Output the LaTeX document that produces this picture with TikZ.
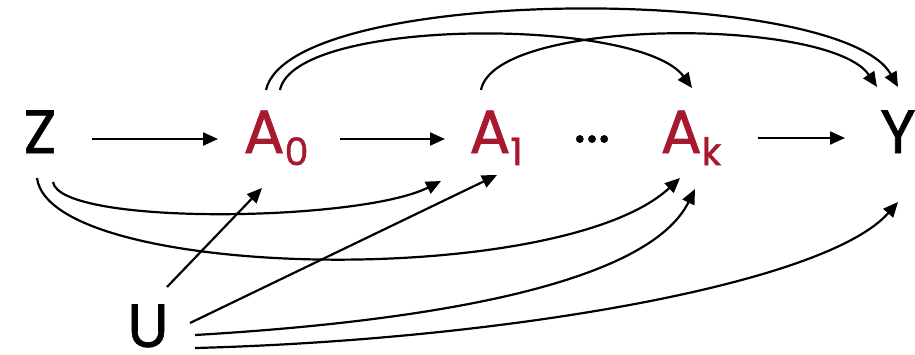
\documentclass[tikz,border=0pt]{standalone}
\usepackage{fontspec}
\setmainfont{Poppins}[FakeBold=1]
\usetikzlibrary{arrows.meta,calc}
\definecolor{crim}{RGB}{166,25,46}
\newcommand\subtxt[1]{\raisebox{-0.2em}{\fontsize{38}{38}\selectfont #1}}
\begin{document}
\begin{tikzpicture}[x=1pt,y=-1pt,
  lbl/.style={inner sep=0pt, font=\fontsize{61}{61}\selectfont, anchor=base},
  act/.style={lbl, text=crim},
  edge/.style={line width=2.2pt, -{Triangle[length=15pt,width=13pt]}}]
\useasboundingbox (0,0) rectangle (915,354);
\node[lbl] (Z) at (40,153) {Z};
\node[act] (A0) at (276,153) {A\subtxt{0}};
\node[act] (A1) at (496,153) {A\subtxt{1}};
\node[inner sep=0pt, font=\fontsize{58}{58}\selectfont, anchor=center] (dots) at (592,139) {...};
\node[act] (Ak) at (691,153) {A\subtxt{k}};
\node[lbl] (Y) at (898,153) {Y};
\node[lbl] (U) at (148,347) {U};
% horizontal
\draw[edge] ([shift={(52,-14)}]Z.base) -- ([shift={(-58,-14)}]A0.base);
\draw[edge] ([shift={(64,-14)}]A0.base) -- ([shift={(-51,-14)}]A1.base);
\draw[edge] ([shift={(67,-15)}]Ak.base) -- ([shift={(-53,-15)}]Y.base);
% top
\draw[edge] ([shift={(-10,-63)}]A0.base) .. controls +(24,-106) and +(-58,-103) .. ([shift={(0,-66)}]Y.base);
\draw[edge] ([shift={(4,-63)}]A0.base) .. controls +(15,-73) and +(-52,-71) .. ([shift={(1,-65)}]Ak.base);
\draw[edge] ([shift={(-15,-63)}]A1.base) .. controls +(14,-73) and +(-47,-70) .. ([shift={(-21,-66)}]Y.base);
% bottom from Z
\draw[edge] ([shift={(-3,25)}]Z.base) .. controls +(13,102) and +(-120,112) .. ([shift={(-11,25)}]Ak.base);
\draw[edge] ([shift={(13,29)}]Z.base) .. controls +(7,44) and +(-81,41) .. ([shift={(-55,28)}]A1.base);
% from U
\draw[edge] ([shift={(19,-60)}]U.base) -- ([shift={(-14,35)}]A0.base);
\draw[edge] ([shift={(42,-24)}]U.base) -- ([shift={(1,22)}]A1.base);
\draw[edge] ([shift={(47,-12)}]U.base) .. controls +(255,-15) and +(-45,91) .. ([shift={(4,36)}]Ak.base);
\draw[edge] ([shift={(47,1)}]U.base) .. controls +(305,-8) and +(-73,83) .. ([shift={(0,49)}]Y.base);
\end{tikzpicture}
\end{document}
